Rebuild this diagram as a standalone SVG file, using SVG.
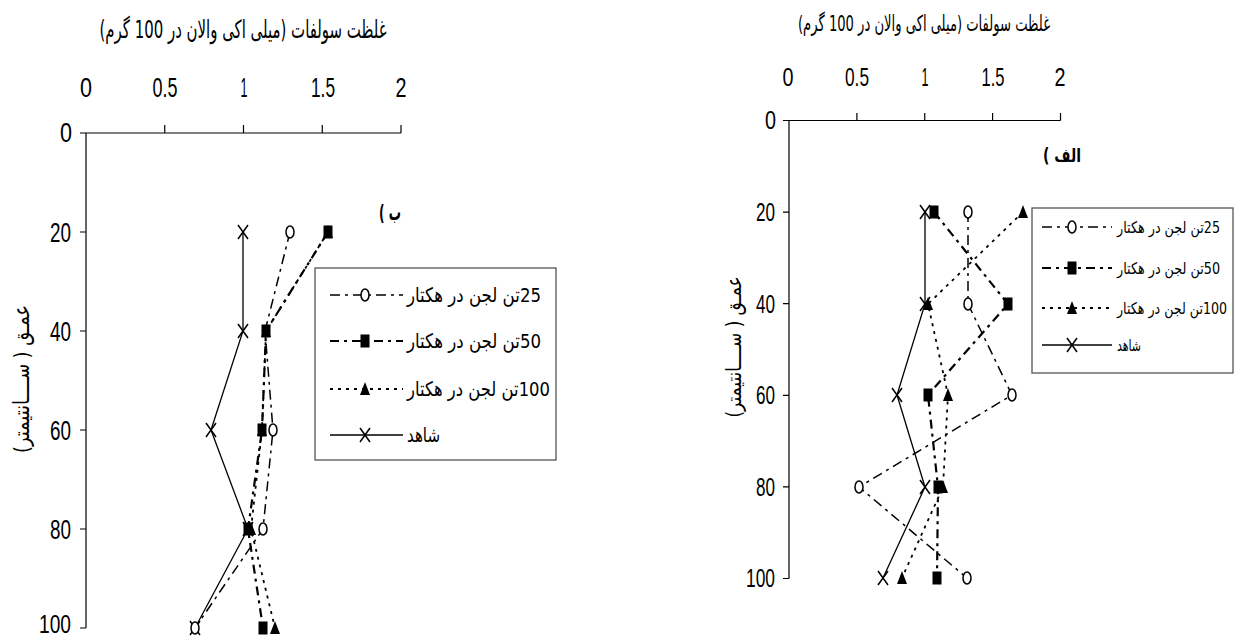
<svg xmlns="http://www.w3.org/2000/svg" xmlns:xlink="http://www.w3.org/1999/xlink" width="1240" height="638" viewBox="0 0 1240 638">
<style>
.ax{stroke:#000;stroke-width:1.2;fill:none}
.num{font-family:"Liberation Sans",Arial,sans-serif;fill:#000}
.fa{font-family:"DejaVu Sans","Noto Sans",sans-serif;fill:#000}
.s25{stroke:#000;stroke-width:1.5;fill:none;stroke-dasharray:10 5 3 5}
.s50{stroke:#000;stroke-width:2.2;fill:none;stroke-dasharray:9 5 3 5}
.s100{stroke:#000;stroke-width:1.8;fill:none;stroke-dasharray:3 5}
.sh{stroke:#000;stroke-width:1.3;fill:none}
.box{fill:#fff;stroke:#555;stroke-width:1.3}
</style>
<defs>
<ellipse id="mo" rx="4" ry="6" fill="#fff" stroke="#000" stroke-width="1.5"/>
<rect id="ms" x="-4.5" y="-6.5" width="9" height="13" fill="#000"/>
<path id="mt" d="M0,-7 L5,6 L-5,6Z" fill="#000"/>
<path id="mx" d="M-5,-7 L5,7 M-5,7 L5,-7" stroke="#000" stroke-width="1.5" fill="none"/>
</defs>
<rect width="1240" height="638" fill="#fff"/>

<g id="chart-b">
<g id="axes-b">
<text class="fa" x="243" y="38" font-size="25" text-anchor="middle" direction="rtl" textLength="287" lengthAdjust="spacingAndGlyphs">غلظت سولفات (میلی اکی والان در 100 گرم)</text>
<path class="ax" d="M80,133H401M86,133V628M164.75,125V133M243.5,125V133M322.25,125V133M401,125V133M80,232H86M80,331H86M80,430H86M80,529H86M80,628H86"/>
<g class="num" font-size="27" text-anchor="middle">
<text x="86" y="97" textLength="12" lengthAdjust="spacingAndGlyphs">0</text>
<text x="165" y="97" textLength="25" lengthAdjust="spacingAndGlyphs">0.5</text>
<text x="244" y="97" textLength="7" lengthAdjust="spacingAndGlyphs">1</text>
<text x="323" y="97" textLength="24" lengthAdjust="spacingAndGlyphs">1.5</text>
<text x="401" y="97" textLength="11" lengthAdjust="spacingAndGlyphs">2</text>
</g>
<g class="num" font-size="27" text-anchor="end">
<text x="72" y="142" textLength="12" lengthAdjust="spacingAndGlyphs">0</text>
<text x="71" y="241.5" textLength="21" lengthAdjust="spacingAndGlyphs">20</text>
<text x="71" y="340.5" textLength="21" lengthAdjust="spacingAndGlyphs">40</text>
<text x="71" y="439.5" textLength="21" lengthAdjust="spacingAndGlyphs">60</text>
<text x="71" y="538.5" textLength="21" lengthAdjust="spacingAndGlyphs">80</text>
<text x="71" y="633" font-size="25" textLength="32" lengthAdjust="spacingAndGlyphs">100</text>
</g>
<text class="fa" transform="translate(29,379) rotate(-90)" font-size="22" text-anchor="middle" direction="rtl" textLength="148" lengthAdjust="spacingAndGlyphs">عمـق ( ســــانتیمتر)</text>
<text class="fa" x="390" y="220" font-size="22" font-weight="bold" text-anchor="middle" direction="rtl" textLength="22" lengthAdjust="spacingAndGlyphs">ب )</text>
</g>
<g id="connectors-b">
<polyline class="sh" points="243,232 243,331 211,430 248,529 195,628"/>
<polyline class="s25" points="290,232 265,331 273,430 263,529 195,628"/>
<polyline class="s50" points="328,232 266,331 262,430 248,529 263,628"/>
<polyline class="s100" points="328,232 266,331 262,430 251,529 275,628"/>
</g>
<g id="markers-b">
<use xlink:href="#mx" x="243" y="232"/><use xlink:href="#mx" x="243" y="331"/><use xlink:href="#mx" x="211" y="430"/><use xlink:href="#mx" x="248" y="529"/><use xlink:href="#mx" x="195" y="628"/>
<use xlink:href="#mt" x="328" y="232"/><use xlink:href="#mt" x="266" y="331"/><use xlink:href="#mt" x="262" y="430"/><use xlink:href="#mt" x="251" y="529"/><use xlink:href="#mt" x="275" y="628"/>
<use xlink:href="#ms" x="328" y="232"/><use xlink:href="#ms" x="266" y="331"/><use xlink:href="#ms" x="262" y="430"/><use xlink:href="#ms" x="248" y="529"/><use xlink:href="#ms" x="263" y="628"/>
<use xlink:href="#mo" x="290" y="232"/><use xlink:href="#mo" x="273" y="430"/><use xlink:href="#mo" x="263" y="529"/><use xlink:href="#mo" x="195" y="628"/>
</g>
<g id="legend-b">
<rect class="box" x="315" y="268" width="241" height="192"/>
<line class="s25" x1="330" y1="295" x2="403" y2="295"/><use xlink:href="#mo" x="365" y="295"/>
<text class="fa" x="474" y="302" font-size="20" text-anchor="middle" direction="rtl" textLength="134" lengthAdjust="spacingAndGlyphs">25تن لجن در هکتار</text>
<line class="s50" x1="330" y1="341" x2="403" y2="341"/><use xlink:href="#ms" x="365" y="341"/>
<text class="fa" x="474" y="348" font-size="20" text-anchor="middle" direction="rtl" textLength="134" lengthAdjust="spacingAndGlyphs">50تن لجن در هکتار</text>
<line class="s100" x1="330" y1="389" x2="403" y2="389"/><use xlink:href="#mt" x="365" y="389"/>
<text class="fa" x="478.5" y="396" font-size="20" text-anchor="middle" direction="rtl" textLength="143" lengthAdjust="spacingAndGlyphs">100تن لجن در هکتار</text>
<line class="sh" x1="330" y1="435" x2="403" y2="435"/><use xlink:href="#mx" x="365" y="435"/>
<text class="fa" x="423.5" y="442" font-size="20" text-anchor="middle" direction="rtl" textLength="33" lengthAdjust="spacingAndGlyphs">شاهد</text>
</g>
</g>

<g id="chart-alef">
<g id="axes-alef">
<text class="fa" x="924" y="31" font-size="22" text-anchor="middle" direction="rtl" textLength="252" lengthAdjust="spacingAndGlyphs">غلظت سولفات (میلی اکی والان در 100 گرم)</text>
<path class="ax" d="M783,120.5H1060.5M789,120.5V578.5M856.9,113V120.5M924.75,113V120.5M992.6,113V120.5M1060.5,113V120.5M783,212.1H789M783,303.7H789M783,395.3H789M783,486.9H789M783,578.5H789"/>
<g class="num" font-size="25" text-anchor="middle">
<text x="788" y="86" textLength="11" lengthAdjust="spacingAndGlyphs">0</text>
<text x="857" y="86" textLength="24" lengthAdjust="spacingAndGlyphs">0.5</text>
<text x="925" y="86" textLength="7" lengthAdjust="spacingAndGlyphs">1</text>
<text x="993" y="86" textLength="23" lengthAdjust="spacingAndGlyphs">1.5</text>
<text x="1060" y="86" textLength="11" lengthAdjust="spacingAndGlyphs">2</text>
</g>
<g class="num" font-size="25" text-anchor="end">
<text x="776" y="129" textLength="11" lengthAdjust="spacingAndGlyphs">0</text>
<text x="775" y="221" textLength="19" lengthAdjust="spacingAndGlyphs">20</text>
<text x="775" y="312.5" textLength="19" lengthAdjust="spacingAndGlyphs">40</text>
<text x="775" y="404" textLength="19" lengthAdjust="spacingAndGlyphs">60</text>
<text x="775" y="495.5" textLength="19" lengthAdjust="spacingAndGlyphs">80</text>
<text x="775" y="587" textLength="29" lengthAdjust="spacingAndGlyphs">100</text>
</g>
<text class="fa" transform="translate(741,347) rotate(-90)" font-size="21" text-anchor="middle" direction="rtl" textLength="141" lengthAdjust="spacingAndGlyphs">عمـق ( ســــانتیمتر)</text>
<text class="fa" x="1062" y="162" font-size="19" font-weight="bold" text-anchor="middle" direction="rtl" textLength="38" lengthAdjust="spacingAndGlyphs">الف )</text>
</g>
<g id="connectors-alef">
<polyline class="sh" points="925,212 925,304 897,395 925,487 883,578"/>
<polyline class="s25" points="968,212 968,304 1012,395 859,487 967,578"/>
<polyline class="s50" points="934,212 1008,304 928,395 938,487 937,578"/>
<polyline class="s100" points="1023,212 928,304 948,395 943,487 902,578"/>
</g>
<g id="markers-alef">
<use xlink:href="#mx" x="925" y="212"/><use xlink:href="#mx" x="925" y="304"/><use xlink:href="#mx" x="897" y="395"/><use xlink:href="#mx" x="925" y="487"/><use xlink:href="#mx" x="883" y="578"/>
<use xlink:href="#mo" x="968" y="212"/><use xlink:href="#mo" x="968" y="304"/><use xlink:href="#mo" x="1012" y="395"/><use xlink:href="#mo" x="859" y="487"/><use xlink:href="#mo" x="967" y="578"/>
<use xlink:href="#ms" x="934" y="212"/><use xlink:href="#ms" x="1008" y="304"/><use xlink:href="#ms" x="928" y="395"/><use xlink:href="#ms" x="938" y="487"/><use xlink:href="#ms" x="937" y="578"/>
<use xlink:href="#mt" x="1023" y="212"/><use xlink:href="#mt" x="928" y="304"/><use xlink:href="#mt" x="948" y="395"/><use xlink:href="#mt" x="943" y="487"/><use xlink:href="#mt" x="902" y="578"/>
</g>
<g id="legend-alef">
<rect class="box" x="1032" y="208" width="201" height="165"/>
<line class="s25" x1="1042" y1="227" x2="1112" y2="227"/><use xlink:href="#mo" x="1072" y="227"/>
<text class="fa" x="1168.5" y="233" font-size="16" text-anchor="middle" direction="rtl" textLength="103" lengthAdjust="spacingAndGlyphs">25تن لجن در هکتار</text>
<line class="s50" x1="1042" y1="268" x2="1112" y2="268"/><use xlink:href="#ms" x="1072" y="268"/>
<text class="fa" x="1168.5" y="274" font-size="16" text-anchor="middle" direction="rtl" textLength="103" lengthAdjust="spacingAndGlyphs">50تن لجن در هکتار</text>
<line class="s100" x1="1042" y1="308" x2="1112" y2="308"/><use xlink:href="#mt" x="1072" y="308"/>
<text class="fa" x="1172" y="314" font-size="16" text-anchor="middle" direction="rtl" textLength="110" lengthAdjust="spacingAndGlyphs">100تن لجن در هکتار</text>
<line class="sh" x1="1042" y1="345" x2="1112" y2="345"/><use xlink:href="#mx" x="1072" y="345"/>
<text class="fa" x="1129" y="351" font-size="16" text-anchor="middle" direction="rtl" textLength="24" lengthAdjust="spacingAndGlyphs">شاهد</text>
</g>
</g>
</svg>
